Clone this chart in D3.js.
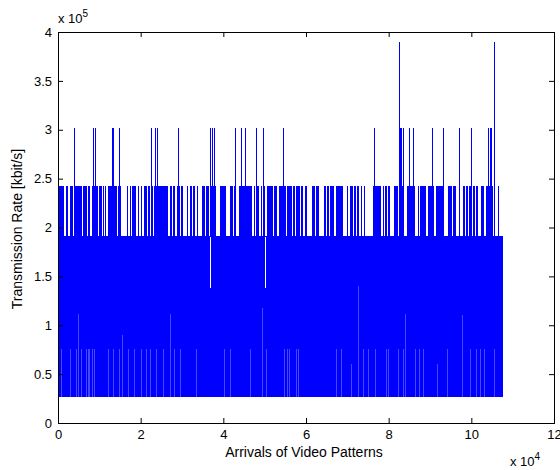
<!DOCTYPE html>
<html>
<head>
<meta charset="utf-8">
<script src="https://cdn.jsdelivr.net/npm/d3@7"></script>
<style>
  body { margin: 0; background: #fff; }
  svg { display: block; }
</style>
</head>
<body>
<svg width="560" height="470"></svg>
<script>
const width = 560;
const height = 470;
const font = '"Liberation Sans", Arial, sans-serif';

const svg = d3.select('svg');

// rate levels of the trace (kbit/s)
const bandLow = 27000;
const bandTop = 191000;
const dipLow = 138000;
const burstTop = 242000;
const spikeTop = 302000;
const peakTop = 390000;
const lastArrival = 107700;

// arrivals (x 10^4) where the trace climbs to 2.42e5, as [from, to] runs
const bursts = [
  [0.00, 0.09], [0.10, 0.15], [0.19, 0.25], [0.29, 0.37], [0.39, 0.59], [0.61, 0.69],
  [0.73, 0.77], [0.82, 0.85], [0.88, 0.96], [0.99, 1.06], [1.08, 1.11], [1.14, 1.15],
  [1.22, 1.25], [1.27, 1.34], [1.36, 1.42], [1.46, 1.52], [1.66, 1.69], [1.74, 1.77],
  [1.80, 1.83], [1.85, 1.88], [1.93, 1.96], [2.01, 2.04], [2.09, 2.15], [2.17, 2.22],
  [2.27, 2.30], [2.33, 2.65], [2.71, 2.77], [2.79, 2.83], [2.87, 2.95], [2.98, 3.02],
  [3.11, 3.15], [3.19, 3.23], [3.27, 3.31], [3.37, 3.39], [3.48, 3.55], [3.57, 3.65],
  [3.69, 3.83], [3.91, 4.07], [4.15, 4.23], [4.27, 4.30], [4.38, 4.70], [4.73, 4.77],
  [4.81, 4.86], [4.90, 4.93], [4.96, 5.01], [5.06, 5.20], [5.22, 5.30], [5.35, 5.52],
  [5.54, 5.65], [5.69, 5.73], [5.77, 5.85], [5.89, 5.93], [5.97, 6.02], [6.15, 6.21],
  [6.25, 6.32], [6.43, 6.48], [6.51, 6.56], [6.59, 6.67], [6.72, 6.90], [6.98, 7.01],
  [7.07, 7.13], [7.15, 7.20], [7.23, 7.28], [7.33, 7.36], [7.40, 7.43], [7.62, 7.82],
  [7.86, 7.89], [7.92, 7.96], [7.99, 8.04], [8.14, 8.22], [8.26, 8.38], [8.44, 8.64],
  [8.70, 8.74], [8.77, 8.90], [8.95, 9.10], [9.15, 9.19], [9.20, 9.31], [9.43, 9.53],
  [9.56, 9.64], [9.79, 9.85], [9.87, 9.93], [9.95, 9.99], [10.03, 10.09], [10.11, 10.17],
  [10.23, 10.31], [10.36, 10.52], [10.64, 10.68]
];

// arrivals (x 10^4) of the 3.02e5 spikes
const spikes = [0.40, 0.87, 0.90, 1.32, 1.35, 1.495, 2.274, 2.37, 2.40, 2.918,
  3.70, 3.73, 3.79, 4.29, 4.428, 4.541, 4.808, 4.977, 5.449, 7.658,
  8.275, 8.311, 8.355, 8.502, 8.594, 9.066, 9.332, 9.719, 9.998,
  10.411, 10.452, 10.488];

// arrivals (x 10^4) of the 3.9e5 peaks
const peaks = [8.262, 10.556];

// arrivals (x 10^4) where the trace stays at 1.38e5
const dips = [3.694, 5.02];

// lighter gaps in the lower band: [arrival x 10^4, top rate]
const gaps = [
  [0.09, 76000], [0.31, 76000], [0.45, 76000], [0.49, 112000], [0.57, 76000], [0.68, 76000],
  [0.73, 76000], [0.77, 76000], [0.84, 76000], [0.88, 76000], [1.23, 76000], [1.34, 76000],
  [1.48, 76000], [1.56, 90000], [1.70, 76000], [1.86, 76000], [2.02, 76000], [2.15, 76000],
  [2.24, 76000], [2.39, 76000], [2.55, 76000], [2.73, 112000], [2.83, 76000], [2.97, 76000],
  [3.36, 76000], [4.04, 76000], [4.18, 76000], [4.65, 76000], [4.95, 118000], [5.05, 76000],
  [5.49, 76000], [5.55, 76000], [5.61, 76000], [5.78, 76000], [5.81, 76000], [6.74, 76000],
  [6.86, 76000], [7.11, 60000], [7.27, 140000], [7.39, 76000], [7.51, 76000], [7.67, 76000],
  [7.94, 76000], [7.99, 76000], [8.23, 76000], [8.35, 76000], [8.40, 112000], [8.64, 76000],
  [8.74, 76000], [8.84, 76000], [9.18, 60000], [9.43, 76000], [9.78, 110000], [9.99, 76000],
  [10.13, 76000], [10.23, 76000], [10.33, 76000], [10.56, 76000]
];

const xTicks = [0, 2, 4, 6, 8, 10, 12];
const yTicks = [0, 0.5, 1, 1.5, 2, 2.5, 3, 3.5, 4];

const margin = { top: 32, right: 6, bottom: 47, left: 58 };
const innerWidth = width - margin.left - margin.right;
const innerHeight = height - margin.top - margin.bottom;

const xScale = d3.scaleLinear().domain([0, 120000]).range([0, innerWidth]);
const yScale = d3.scaleLinear().domain([0, 400000]).range([innerHeight, 0]);

const g = svg.append('g')
  .attr('transform', 'translate(' + margin.left + ',' + margin.top + ')');

const blue = '#0000ff';
const plot = g.append('g').attr('shape-rendering', 'crispEdges');

// dense core of the trace
plot.append('rect')
  .attr('x', xScale(0))
  .attr('width', xScale(lastArrival) - xScale(0))
  .attr('y', yScale(bandTop))
  .attr('height', yScale(bandLow) - yScale(bandTop))
  .attr('fill', blue);

plot.selectAll('.burst')
  .data(bursts)
  .enter().append('rect')
  .attr('class', 'burst')
  .attr('x', d => xScale(d[0] * 1e4))
  .attr('width', d => Math.max(1, xScale(d[1] * 1e4) - xScale(d[0] * 1e4)))
  .attr('y', yScale(burstTop))
  .attr('height', yScale(bandTop) - yScale(burstTop))
  .attr('fill', blue);

plot.selectAll('.spike')
  .data(spikes)
  .enter().append('line')
  .attr('class', 'spike')
  .attr('x1', d => xScale(d * 1e4)).attr('x2', d => xScale(d * 1e4))
  .attr('y1', yScale(bandTop)).attr('y2', yScale(spikeTop))
  .attr('stroke', blue).attr('stroke-width', 1);

plot.selectAll('.peak')
  .data(peaks)
  .enter().append('line')
  .attr('class', 'peak')
  .attr('x1', d => xScale(d * 1e4)).attr('x2', d => xScale(d * 1e4))
  .attr('y1', yScale(bandTop)).attr('y2', yScale(peakTop))
  .attr('stroke', blue).attr('stroke-width', 1);

plot.selectAll('.dip')
  .data(dips)
  .enter().append('line')
  .attr('class', 'dip')
  .attr('x1', d => xScale(d * 1e4)).attr('x2', d => xScale(d * 1e4))
  .attr('y1', yScale(dipLow)).attr('y2', yScale(bandTop) + 1)
  .attr('stroke', '#fff').attr('stroke-width', 1);

plot.selectAll('.gap')
  .data(gaps)
  .enter().append('line')
  .attr('class', 'gap')
  .attr('x1', d => xScale(d[0] * 1e4)).attr('x2', d => xScale(d[0] * 1e4))
  .attr('y1', yScale(bandLow)).attr('y2', d => yScale(d[1]))
  .attr('stroke', '#fff').attr('stroke-opacity', 0.28).attr('stroke-width', 1);

// axes with inward ticks on all four sides
const xAxis = d3.axisBottom(xScale)
  .tickValues(xTicks.map(d => d * 1e4))
  .tickFormat(d => d / 1e4)
  .tickSizeInner(-5).tickSizeOuter(0).tickPadding(7);
const yAxis = d3.axisLeft(yScale)
  .tickValues(yTicks.map(d => d * 1e5))
  .tickFormat(d => d / 1e5)
  .tickSizeInner(-5).tickSizeOuter(0).tickPadding(6);

const xAxisG = g.append('g')
  .attr('transform', 'translate(0,' + innerHeight + ')')
  .call(xAxis)
  .attr('font-size', 13).attr('font-family', font);
const yAxisG = g.append('g')
  .call(yAxis)
  .attr('font-size', 13).attr('font-family', font);

const topAxisG = g.append('g')
  .call(d3.axisTop(xScale).tickValues(xTicks.map(d => d * 1e4)).tickSizeInner(-5).tickSizeOuter(0));
const rightAxisG = g.append('g')
  .attr('transform', 'translate(' + innerWidth + ',0)')
  .call(d3.axisRight(yScale).tickValues(yTicks.map(d => d * 1e5)).tickSizeInner(-5).tickSizeOuter(0));
topAxisG.selectAll('text').remove();
rightAxisG.selectAll('text').remove();

g.selectAll('.domain').remove();

g.append('rect')
  .attr('width', innerWidth)
  .attr('height', innerHeight)
  .attr('fill', 'none')
  .attr('stroke', '#000')
  .attr('stroke-width', 1)
  .attr('shape-rendering', 'crispEdges');

// axis titles
g.append('text')
  .text('Arrivals of Video Patterns')
  .attr('x', innerWidth / 2 - 2)
  .attr('y', innerHeight + 34)
  .attr('fill', '#000')
  .attr('font-family', font)
  .attr('font-size', 14)
  .attr('text-anchor', 'middle');

g.append('text')
  .text('Transmission Rate [kbit/s]')
  .attr('transform', 'rotate(-90)')
  .attr('x', -197)
  .attr('y', -36)
  .attr('fill', '#000')
  .attr('font-family', font)
  .attr('font-size', 14)
  .attr('text-anchor', 'middle');

// exponent labels
const expY = g.append('text')
  .attr('x', 0)
  .attr('y', -9)
  .attr('font-family', font)
  .attr('font-size', 13)
  .attr('fill', '#000');
expY.append('tspan').text('x 10');
expY.append('tspan').text('5').attr('font-size', 10).attr('dy', -6);

const expX = g.append('text')
  .attr('x', innerWidth - 44)
  .attr('y', innerHeight + 43)
  .attr('font-family', font)
  .attr('font-size', 13)
  .attr('fill', '#000');
expX.append('tspan').text('x 10');
expX.append('tspan').text('4').attr('font-size', 10).attr('dy', -6);
</script>
</body>
</html>
